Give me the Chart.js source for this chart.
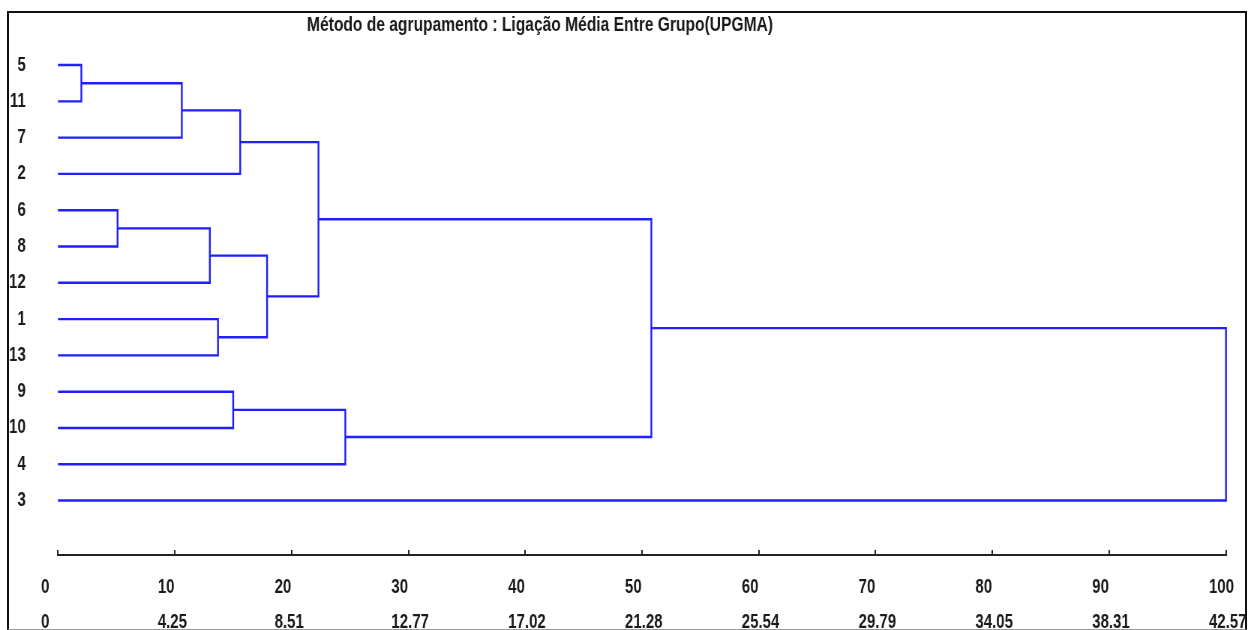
<!DOCTYPE html>
<html>
<head>
<meta charset="utf-8">
<script src="https://cdn.jsdelivr.net/npm/chart.js@4.4.1/dist/chart.umd.min.js"></script>
<style>
  html, body { margin: 0; padding: 0; background: #fff; overflow: hidden; }
  #wrap { position: relative; width: 1249px; height: 630px; overflow: hidden; }
  /* the original figure uses a narrow bold font: squeeze the canvas horizontally */
  #squeeze { position: absolute; left: 0; top: 0; transform: scaleX(0.75); transform-origin: 0 0; }
  #frame {
    position: absolute; left: 7px; top: 11px; width: 1240px; height: 619px;
    box-sizing: border-box; border: 2px solid #111; border-bottom: 1px solid #9a9a9a;
    pointer-events: none;
  }
</style>
</head>
<body>
<div id="wrap">
  <div id="squeeze"><canvas id="graphicDendro" width="1666" height="630"></canvas></div>
  <div id="frame"></div>
</div>
<script>
// Dendrograma UPGMA
// Librerias: Chart.js
const titulo = 'Método de agrupamento : Ligação Média Entre Grupo(UPGMA)';

// folhas, na ordem do dendrograma (de cima para baixo)
const leafLabels = ['5', '11', '7', '2', '6', '8', '12', '1', '13', '9', '10', '4', '3'];

// fusoes: indice < 13 = folha, >= 13 = grupo (13 + numero da fusao)
const mergeLeft   = [0, 13, 14, 4, 16, 7, 17, 15, 9, 21, 20, 23];
const mergeRight  = [1, 2, 3, 5, 6, 8, 18, 19, 10, 11, 22, 12];
const mergeHeight = [2.0, 10.6, 15.6, 5.1, 13.0, 13.7, 17.9, 22.3, 15.0, 24.6, 50.8, 100];

// eixo de distancia (% e valor absoluto)
const xTicks     = [0, 10, 20, 30, 40, 50, 60, 70, 80, 90, 100];
const distLabels = ['0', '4.25', '8.51', '12.77', '17.02', '21.28', '25.54', '29.79', '34.05', '38.31', '42.57'];

const sx = 0.75; // horizontal squeeze of the canvas (see css)
const fontFam = "'Liberation Sans', Arial, sans-serif";
const lineColor = '#1f1fff';
const textColor = '#1a1a1a';

//----- BUILD LINKS
let nodeY = leafLabels.map((l, i) => i);
let nodeH = leafLabels.map(() => 0);
let links = [];
for (let i = 0; i < mergeHeight.length; i++) {
  let a = mergeLeft[i];
  let b = mergeRight[i];
  let h = mergeHeight[i];
  links.push({
    data: [
      {x: nodeH[a], y: nodeY[a]},
      {x: h, y: nodeY[a]},
      {x: h, y: nodeY[b]},
      {x: nodeH[b], y: nodeY[b]}
    ],
    showLine: true,
    borderColor: lineColor,
    borderWidth: 2.4,
    pointRadius: 0,
    tension: 0,
    fill: false,
    clip: false,
  });
  nodeY.push((nodeY[a] + nodeY[b]) / 2);
  nodeH.push(h);
}

//----- TITLE
const titlePlugin = {
  id: 'tituloMetodo',
  afterDraw(chart) {
    let ctx = chart.ctx;
    ctx.save();
    ctx.font = 'bold 21px ' + fontFam;
    ctx.fillStyle = textColor;
    ctx.textBaseline = 'alphabetic';
    let w = ctx.measureText(titulo).width;
    ctx.translate(307 / sx, 31);
    ctx.scale(466 / sx / w, 1);
    ctx.fillText(titulo, 0, 0);
    ctx.restore();
  }
};

//-----GRAPHIC
let chart1;
function getDrawDendro(){
  let ctx = document.getElementById('graphicDendro').getContext('2d');
  if (chart1) {
    chart1.destroy();
  }
  let tickFont = {family: fontFam, size: 20, weight: 'bold', lineHeight: '35px'};
  chart1 = new Chart(ctx, {
    type: 'scatter',
    data: {datasets: links},
    plugins: [titlePlugin],
    options: {
      responsive: false,
      animation: false,
      layout: {padding: {top: 28.75, right: 1666 - 1226 / sx, left: 0, bottom: 0}},
      plugins: {
        legend: {display: false},
        tooltip: {enabled: false},
        title: {display: false},
      },
      scales: {
        x: {
          type: 'linear',
          position: 'bottom',
          min: 0,
          max: 100,
          afterFit: s => { s.height = 75; s.paddingLeft = 0; s.paddingRight = 0; },
          afterBuildTicks: s => { s.ticks = xTicks.map(v => ({value: v})); },
          grid: {display: true, drawOnChartArea: false, drawTicks: true, tickLength: -5, color: '#222', lineWidth: 2},
          border: {display: true, color: '#222', width: 2},
          ticks: {
            autoSkip: false,
            maxRotation: 0,
            align: 'start',
            labelOffset: -17 / sx,
            padding: 19.5,
            color: textColor,
            font: tickFont,
            callback: (v, i) => [String(v), distLabels[i]],
          },
        },
        y: {
          type: 'linear',
          reverse: true,
          min: -1,
          max: 13.5,
          afterFit: s => { s.width = 58 / sx; s.paddingTop = 0; s.paddingBottom = 0; },
          afterBuildTicks: s => { s.ticks = leafLabels.map((l, i) => ({value: i})); },
          grid: {display: false},
          border: {display: false},
          ticks: {
            autoSkip: false,
            padding: 35,
            color: textColor,
            font: {family: fontFam, size: 20, weight: 'bold'},
            callback: v => leafLabels[v],
          },
        },
      },
    },
  });
}

getDrawDendro();
</script>
</body>
</html>
